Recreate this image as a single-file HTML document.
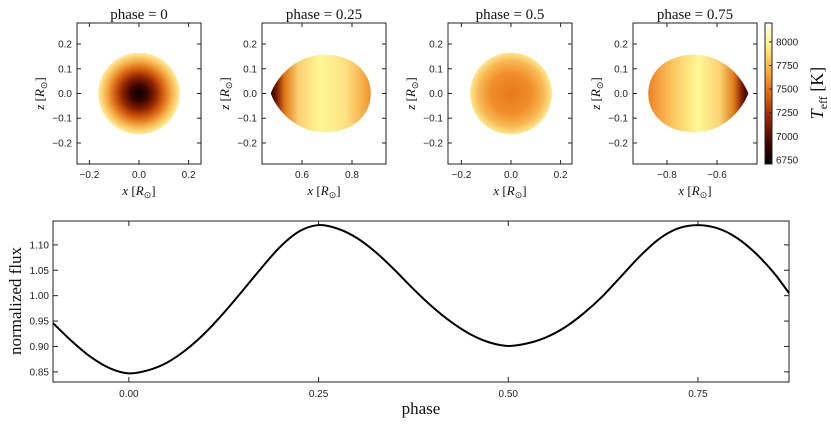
<!DOCTYPE html>
<html><head><meta charset="utf-8"><style>
html,body{margin:0;padding:0;background:#fff;}
svg{display:block;}
.tk{font-family:"Liberation Sans",sans-serif;font-size:10px;fill:#222;}
.sr{font-family:"Liberation Serif",serif;fill:#111;}
</style></head><body>
<svg id="fig" width="831" height="424" viewBox="0 0 831 424" xmlns="http://www.w3.org/2000/svg">
<defs>
<radialGradient id="g0" cx="0.5" cy="0.5" r="0.5">
<stop offset="0" stop-color="#0a0000"/><stop offset="0.2" stop-color="#3a0500"/><stop offset="0.4" stop-color="#8a2200"/>
<stop offset="0.6" stop-color="#d86010"/><stop offset="0.8" stop-color="#f6b048"/><stop offset="1" stop-color="#fff0a0"/></radialGradient>
<radialGradient id="g2" cx="0.5" cy="0.5" r="0.5">
<stop offset="0" stop-color="#e8781c"/><stop offset="0.5" stop-color="#f08e2a"/><stop offset="0.8" stop-color="#f8b854"/><stop offset="1" stop-color="#ffe890"/></radialGradient>
<linearGradient id="g1" x1="0" x2="1" y1="0" y2="0">
<stop offset="0" stop-color="#200200"/><stop offset="0.06" stop-color="#7a1a00"/><stop offset="0.14" stop-color="#e07818"/>
<stop offset="0.28" stop-color="#fbd070"/><stop offset="0.5" stop-color="#fff898"/><stop offset="0.75" stop-color="#fde080"/>
<stop offset="0.92" stop-color="#f8b048"/><stop offset="1" stop-color="#f09028"/></linearGradient>
<linearGradient id="g3" x1="1" x2="0" y1="0" y2="0">
<stop offset="0" stop-color="#200200"/><stop offset="0.06" stop-color="#7a1a00"/><stop offset="0.14" stop-color="#e07818"/>
<stop offset="0.28" stop-color="#fbd070"/><stop offset="0.5" stop-color="#fff898"/><stop offset="0.75" stop-color="#fbc860"/>
<stop offset="0.92" stop-color="#f49838"/><stop offset="1" stop-color="#ec8020"/></linearGradient>
<linearGradient id="cb" x1="0" x2="0" y1="1" y2="0">
<stop offset="0" stop-color="#000000"/><stop offset="0.17" stop-color="#4a0800"/><stop offset="0.34" stop-color="#a02800"/>
<stop offset="0.5" stop-color="#e06a10"/><stop offset="0.67" stop-color="#f8b040"/><stop offset="0.84" stop-color="#fff088"/><stop offset="1" stop-color="#fffff2"/></linearGradient>
</defs>
</svg>
<script>
// light curve data
const phases = [-0.1,-0.075,-0.05,-0.025,0,0.025,0.05,0.075,0.1,0.125,0.15,0.175,0.2,0.225,0.25,0.275,0.3,0.325,0.35,0.375,0.4,0.425,0.45,0.475,0.5,0.525,0.55,0.575,0.6,0.625,0.65,0.675,0.7,0.725,0.75,0.775,0.8,0.825,0.85,0.87];
const flux = [0.946,0.910,0.879,0.857,0.847,0.853,0.868,0.893,0.926,0.966,1.010,1.055,1.097,1.127,1.139,1.132,1.114,1.086,1.051,1.013,0.978,0.948,0.924,0.908,0.901,0.906,0.918,0.938,0.966,1.000,1.040,1.080,1.113,1.133,1.139,1.133,1.115,1.085,1.045,1.005];
const xTicks = [0, 0.25, 0.5, 0.75];
const xTickLabels = ["0.00","0.25","0.50","0.75"];
const yTicks = [0.85,0.90,0.95,1.00,1.05,1.10];
const yTickLabels = ["0.85","0.90","0.95","1.00","1.05","1.10"];
const panelTitles = ["phase = 0","phase = 0.25","phase = 0.5","phase = 0.75"];
const cbTicks = [6750,7000,7250,7500,7750,8000];

const NS="http://www.w3.org/2000/svg", svg=document.getElementById('fig');
function mk(tag,attrs,parent){const e=document.createElementNS(NS,tag);for(const k in attrs)e.setAttribute(k,attrs[k]);(parent||svg).appendChild(e);return e;}
function txt(s,attrs,cls){const t=mk('text',attrs);t.setAttribute('class',cls);t.textContent=s;return t;}

// ---- small panels ----
const pl=[77,262,448,633], pw=124, pt=23, ph=141;
const xl=[[-0.25,0.25],[0.44,0.936],[-0.254,0.246],[-0.936,-0.44]];
const xt=[[-0.2,0,0.2],[0.6,0.8],[-0.2,0,0.2],[-0.8,-0.6]];
const xtl=[["−0.2","0.0","0.2"],["0.6","0.8"],["−0.2","0.0","0.2"],["−0.8","−0.6"]];
const zT=[-0.2,-0.1,0,0.1,0.2], zTL=["−0.2","−0.1","0.0","0.1","0.2"];
const zl=[-0.285,0.285];
for(let i=0;i<4;i++){
  const X=v=>pl[i]+(v-xl[i][0])/(xl[i][1]-xl[i][0])*pw;
  const Z=v=>pt+ph-(v-zl[0])/(zl[1]-zl[0])*ph;
  const g=mk('g',{});
  
  
  let star;
  if(i===0||i===2){
    star=mk('circle',{cx:X(0),cy:Z(0),r:(X(0.165)-X(0)),fill:i===0?'url(#g0)':'url(#g2)'},g);
  } else {
    const s=i===1?1:-1;
    const P=(x,z)=>X(s*x)+','+Z(z);
    const d='M'+P(0.475,0)+' C'+P(0.50,0.07)+' '+P(0.58,0.157)+' '+P(0.69,0.157)+' C'+P(0.80,0.157)+' '+P(0.875,0.09)+' '+P(0.875,0)+' C'+P(0.875,-0.09)+' '+P(0.80,-0.157)+' '+P(0.69,-0.157)+' C'+P(0.58,-0.157)+' '+P(0.50,-0.07)+' '+P(0.475,0)+' Z';
    star=mk('path',{d:d,fill:i===1?'url(#g1)':'url(#g3)'},g);
  }
  
  
  const fr=mk('rect',{x:pl[i],y:pt,width:pw,height:ph,fill:'none',stroke:'#222','stroke-width':1},g);
  
  
  xt[i].forEach((v,j)=>{
    mk('line',{x1:X(v),x2:X(v),y1:pt+ph,y2:pt+ph-4,stroke:'#222'},g);
    mk('line',{x1:X(v),x2:X(v),y1:pt,y2:pt+4,stroke:'#222'},g);
    const t=txt(xtl[i][j],{x:X(v),y:pt+ph+14,'text-anchor':'middle'},'tk');
    
    
  });
  zT.forEach((v,j)=>{
    mk('line',{x1:pl[i],x2:pl[i]+4,y1:Z(v),y2:Z(v),stroke:'#222'},g);
    mk('line',{x1:pl[i]+pw,x2:pl[i]+pw-4,y1:Z(v),y2:Z(v),stroke:'#222'},g);
    const t=txt(zTL[j],{x:pl[i]-5,y:Z(v)+3.5,'text-anchor':'end'},'tk');
    
    
  });
  const ti=txt(panelTitles[i],{x:pl[i]+pw/2,y:19,'text-anchor':'middle','font-size':'15px'},'sr');
  
  
  const xa=mk('text',{x:pl[i]+pw/2,y:195,'text-anchor':'middle','font-size':'13px',class:'sr'});
  xa.innerHTML='<tspan font-style="italic">x</tspan> [<tspan font-style="italic">R</tspan><tspan font-size="9px" dy="3">⊙</tspan><tspan dy="-3">]</tspan>';
  
  
  const za=mk('text',{x:0,y:0,'text-anchor':'middle','font-size':'13px',class:'sr',transform:'translate('+(pl[i]-33)+','+(pt+ph/2)+') rotate(-90)'});
  za.innerHTML='<tspan font-style="italic">z</tspan> [<tspan font-style="italic">R</tspan><tspan font-size="9px" dy="3">⊙</tspan><tspan dy="-3">]</tspan>';
  
  
}

// ---- colorbar ----
const cbx=765, cbw=7, cbMin=6707, cbMax=8200;
const CY=v=>pt+ph-(v-cbMin)/(cbMax-cbMin)*ph;
const cbr=mk('rect',{x:cbx,y:pt,width:cbw,height:ph,fill:'url(#cb)',stroke:'#222','stroke-width':1});


cbTicks.forEach(v=>{
  mk('line',{x1:cbx+cbw,x2:cbx+cbw-3,y1:CY(v),y2:CY(v),stroke:'#222'});
  const t=txt(String(v),{x:cbx+cbw+4,y:CY(v)+3.5},'tk');
  
  
});
const cbl=mk('text',{x:0,y:0,'text-anchor':'middle','font-size':'18px',class:'sr',transform:'translate(823,93) rotate(-90)'});
cbl.innerHTML='<tspan font-style="italic">T</tspan><tspan font-size="12px" dy="4">eff</tspan><tspan dy="-4"> [K]</tspan>';



// ---- light curve ----
const L=53,R=789,T=221,B=382, x0=-0.1,x1=0.87, y0=0.830,y1=1.147;
const FX=v=>L+(v-x0)/(x1-x0)*(R-L), FY=v=>B-(v-y0)/(y1-y0)*(B-T);
const ax=mk('rect',{x:L,y:T,width:R-L,height:B-T,fill:'none',stroke:'#222','stroke-width':1});


xTicks.forEach((v,j)=>{
  mk('line',{x1:FX(v),x2:FX(v),y1:B,y2:B-5,stroke:'#222'});
  mk('line',{x1:FX(v),x2:FX(v),y1:T,y2:T+5,stroke:'#222'});
  const t=txt(xTickLabels[j],{x:FX(v),y:B+15,'text-anchor':'middle'},'tk');
  
  
});
yTicks.forEach((v,j)=>{
  mk('line',{x1:L,x2:L+5,y1:FY(v),y2:FY(v),stroke:'#222'});
  mk('line',{x1:R,x2:R-5,y1:FY(v),y2:FY(v),stroke:'#222'});
  const t=txt(yTickLabels[j],{x:L-4,y:FY(v)+3.5,'text-anchor':'end'},'tk');
  
  
});
let pts=phases.map((p,i)=>[FX(p),FY(flux[i])]);
let d='M'+pts[0][0]+','+pts[0][1];
for(let i=0;i<pts.length-1;i++){
  const p0=pts[Math.max(0,i-1)],p1=pts[i],p2=pts[i+1],p3=pts[Math.min(pts.length-1,i+2)];
  d+=' C'+(p1[0]+(p2[0]-p0[0])/6)+','+(p1[1]+(p2[1]-p0[1])/6)+' '+(p2[0]-(p3[0]-p1[0])/6)+','+(p2[1]-(p3[1]-p1[1])/6)+' '+p2[0]+','+p2[1];
}
const line=mk('path',{d:d,fill:'none',stroke:'#000','stroke-width':2});


const yl=txt('normalized flux',{x:0,y:0,'text-anchor':'middle','font-size':'17px',transform:'translate(21,301) rotate(-90)'},'sr');


const xlab=txt('phase',{x:421,y:414,'text-anchor':'middle','font-size':'17px'},'sr');


</script>
</body></html>
